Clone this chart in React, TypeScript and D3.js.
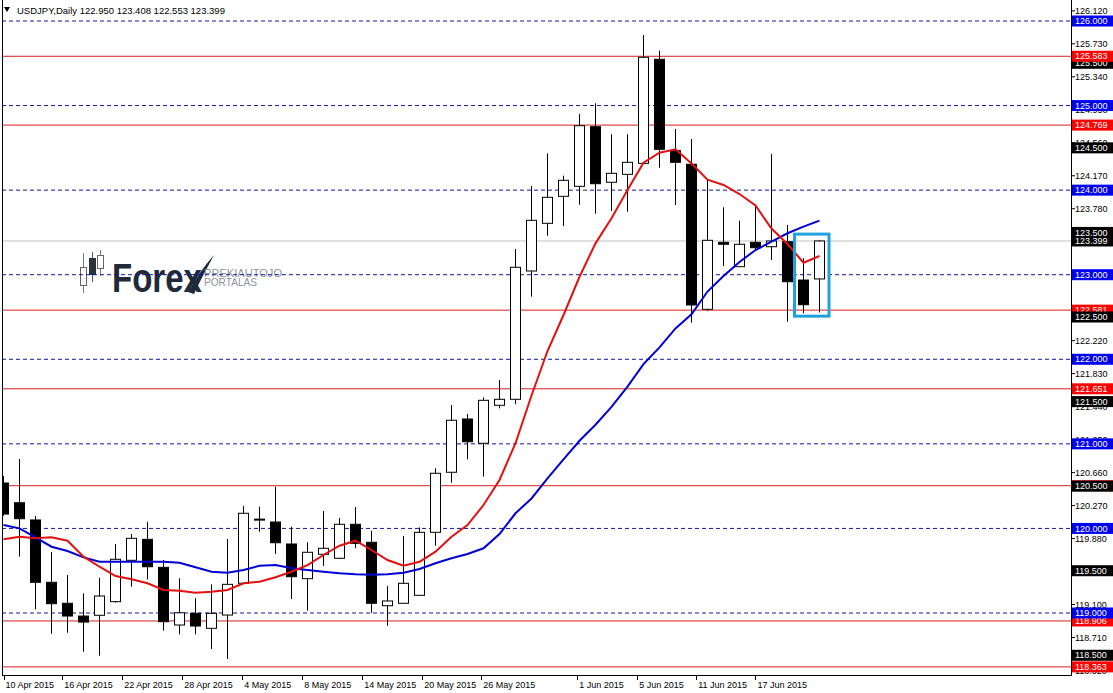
import React from 'react';
import * as d3 from 'd3';

// daily candles, 10 Apr 2015 .. 19 Jun 2015
const opens = [
  120.537, 120.304, 120.100, 119.363, 119.115, 118.964, 118.973, 119.134, 119.623, 119.871,
  119.540, 118.858, 118.996, 118.819, 118.976, 119.351, 120.100, 120.076, 119.816, 119.406,
  119.694, 119.647, 120.049, 119.836, 119.086, 119.115, 119.209, 119.954, 120.664, 121.294,
  121.007, 121.456, 121.527, 123.044, 123.608, 123.927, 124.045, 124.750, 124.093, 124.187,
  124.317, 125.547, 124.466, 124.306, 122.591, 123.383, 123.095, 123.383, 123.331, 123.390,
  122.937, 122.950,
];
const highs = [
  120.620, 120.821, 120.147, 119.721, 119.449, 119.233, 119.417, 119.816, 119.934, 120.079,
  119.627, 119.410, 119.174, 119.339, 119.875, 120.265, 120.257, 120.493, 120.020, 119.836,
  120.206, 120.123, 120.253, 119.973, 119.319, 119.910, 120.013, 120.711, 121.459, 121.353,
  121.550, 121.755, 123.304, 124.049, 124.436, 124.171, 124.900, 125.027, 124.660, 124.660,
  125.834, 125.649, 124.723, 124.605, 124.124, 123.797, 123.639, 123.812, 124.427, 123.588,
  123.194, 123.408,
];
const lows = [
  120.150, 119.666, 119.044, 118.755, 118.767, 118.542, 118.495, 119.122, 119.311, 119.398,
  118.791, 118.748, 118.748, 118.574, 118.456, 119.351, 119.961, 119.698, 119.165, 119.027,
  119.556, 119.638, 119.765, 119.003, 118.850, 119.115, 119.209, 119.796, 120.541, 120.817,
  120.612, 121.420, 121.468, 122.740, 123.461, 123.576, 123.828, 123.721, 123.753, 123.745,
  124.317, 124.265, 123.824, 122.433, 122.570, 123.103, 123.090, 123.292, 123.174, 122.444,
  122.544, 122.553,
];
const closes = [
  120.170, 120.115, 119.363, 119.110, 118.964, 118.893, 119.201, 119.635, 119.883, 119.547,
  118.897, 119.003, 118.846, 118.996, 119.339, 120.179, 120.110, 119.831, 119.429, 119.718,
  119.765, 120.049, 119.824, 119.115, 119.142, 119.351, 119.954, 120.652, 121.279, 121.025,
  121.515, 121.527, 123.088, 123.643, 123.915, 124.116, 124.762, 124.076, 124.199, 124.329,
  125.571, 124.483, 124.329, 122.642, 123.407, 123.360, 123.360, 123.319, 123.399, 122.917,
  122.645, 123.399,
];

// moving averages as drawn (red = fast, blue = slow)
const fastMA = [
  119.871, 119.902, 119.883, 119.895, 119.855, 119.666, 119.547, 119.437, 119.398, 119.351,
  119.272, 119.264, 119.240, 119.252, 119.272, 119.351, 119.370, 119.422, 119.488, 119.567,
  119.686, 119.796, 119.855, 119.745, 119.627, 119.559, 119.606, 119.725, 119.902, 120.040,
  120.277, 120.573, 121.007, 121.572, 122.098, 122.524, 122.976, 123.371, 123.667, 124.002,
  124.324, 124.443, 124.483, 124.315, 124.123, 124.061, 123.954, 123.818, 123.546, 123.363,
  123.142, 123.221,
];
const slowMA = [
  120.040, 120.001, 119.895, 119.784, 119.733, 119.658, 119.606, 119.606, 119.606, 119.606,
  119.606, 119.594, 119.540, 119.488, 119.476, 119.508, 119.559, 119.567, 119.528, 119.508,
  119.488, 119.469, 119.457, 119.453, 119.457, 119.476, 119.520, 119.588, 119.647, 119.698,
  119.765, 119.934, 120.179, 120.354, 120.593, 120.817, 121.037, 121.226, 121.438, 121.676,
  121.943, 122.141, 122.365, 122.533, 122.801, 122.985, 123.150, 123.292, 123.390, 123.490,
  123.568, 123.639,
];

const dateLabels = [
  '10 Apr 2015', '16 Apr 2015', '22 Apr 2015', '28 Apr 2015', '4 May 2015', '8 May 2015',
  '14 May 2015', '20 May 2015', '26 May 2015', '1 Jun 2015', '5 Jun 2015', '11 Jun 2015', '17 Jun 2015',
];
// where each date tick sits, in bar units
const dateTickBars = [0, 3.67, 7.42, 11.17, 14.92, 18.67, 22.42, 26.17, 29.86, 35.86, 39.61, 43.29, 47.0];

const priceTicks = [
  '126.120', '125.730', '125.340', '124.950', '124.560', '124.170', '123.780', '123.390', '123.000',
  '122.610', '122.220', '121.830', '121.440', '121.050', '120.660', '120.270', '119.880', '119.490',
  '119.100', '118.710', '118.320',
];

const blueLevels = [126, 125, 124, 123, 122, 121, 120, 119];
const redLevels = [125.583, 124.769, 122.581, 121.651, 120.505, 118.906, 118.363];
const lastPrice = 123.399;

// right-hand price boxes, in the order they are painted
const priceBoxes: [number, string][] = [
  [123.399, 'black'],
  [122.581, 'red'], [121.651, 'red'], [120.505, 'red'], [118.906, 'red'], [118.363, 'red'],
  [125.5, 'black'], [124.5, 'black'], [123.5, 'black'], [122.5, 'black'],
  [121.5, 'black'], [120.5, 'black'], [119.5, 'black'], [118.5, 'black'],
  [125.583, 'red'], [124.769, 'red'],
  [126, 'blue'], [125, 'blue'], [124, 'blue'], [123, 'blue'],
  [122, 'blue'], [121, 'blue'], [120, 'blue'], [119, 'blue'],
];

const headerSymbol = 'USDJPY,Daily';
const headerOHLC = ['122.950', '123.408', '122.553', '123.399'];

const highlight = { from: 50, to: 51, top: 123.48, bottom: 122.51 };

const boxFill: Record<string, string> = { red: '#ff0000', blue: '#0000f0', black: '#000000' };

const FONT = '"Liberation Sans", Arial, sans-serif';

export default function App() {
  const W = 1113, H = 693;
  const left = 2, right = 1071, top = 0, bottom = 675;

  const x = d3.scaleLinear().domain([0, opens.length - 1]).range([3.5, 819.5]);
  const y = d3.scaleLinear().domain([119, 126]).range([613, 21]);

  const maLine = d3.line<number>().x((_, i) => x(i)).y(d => y(d));

  return (
    <>
      <style>{'body{margin:0}'}</style>
      <svg width={W} height={H} style={{ display: 'block', background: '#fff' }} fontFamily={FONT}>
        <defs>
          <clipPath id="plot">
            <rect x={left} y={top} width={right - left} height={bottom - top} />
          </clipPath>
        </defs>

        {/* watermark logo */}
        <g>
          <line x1={83.5} x2={83.5} y1={253} y2={293} stroke="#777" />
          <rect x={80.5} y={267.5} width={6} height={18} fill="#fff" stroke="#666" />
          <line x1={92.5} x2={92.5} y1={252} y2={282} stroke="#555" />
          <rect x={89.5} y={258.5} width={6} height={16} fill="#2b313a" stroke="#2b313a" />
          <line x1={100.5} x2={100.5} y1={250} y2={276} stroke="#777" />
          <rect x={97.5} y={255.5} width={6} height={13} fill="#fff" stroke="#666" />
          <text x={112} y={292} fontSize={41} fontWeight="bold" fill="#1f2b3a"
            textLength={90} lengthAdjust="spacingAndGlyphs">Forex</text>
          <path d="M188,292 C196,278 204,266 214,255 C207,268 200,281 194,294 Z" fill="#1f2b3a" />
          <text x={204} y={277} fontSize={10.5} fill="#8b939c" textLength={78} lengthAdjust="spacingAndGlyphs">PREKIAUTOJO</text>
          <text x={204} y={286} fontSize={10.5} fill="#8b939c" textLength={53} lengthAdjust="spacingAndGlyphs">PORTALAS</text>
        </g>

        <g clipPath="url(#plot)">
          {/* level lines */}
          <line x1={left} x2={right} y1={y(lastPrice)} y2={y(lastPrice)} stroke="#c0c0c0" />
          {blueLevels.map(v => (
            <line key={'b' + v} x1={left} x2={right} y1={y(v)} y2={y(v)}
              stroke="#1414a8" strokeDasharray="4,3" />
          ))}
          {redLevels.map(v => (
            <line key={'r' + v} x1={left} x2={right} y1={y(v)} y2={y(v)} stroke="#d81e1e" />
          ))}

          {/* candles */}
          {opens.map((o, i) => {
            const c = closes[i];
            const up = c >= o;
            const y0 = y(Math.max(o, c));
            const h = Math.max(1, Math.abs(y(o) - y(c)));
            return (
              <g key={i}>
                <line x1={x(i)} x2={x(i)} y1={y(highs[i])} y2={y(lows[i])} stroke="#000" />
                <rect x={x(i) - 5} y={y0} width={10} height={h}
                  fill={up ? '#fff' : '#000'} stroke="#000" />
              </g>
            );
          })}

          {/* moving averages */}
          <path d={maLine(slowMA) || ''} fill="none" stroke="#0000d6" strokeWidth={2} />
          <path d={maLine(fastMA) || ''} fill="none" stroke="#e41010" strokeWidth={2} />

          {/* highlight box */}
          <rect x={x(highlight.from) - 9} y={y(highlight.top)}
            width={x(highlight.to) - x(highlight.from) + 18.5}
            height={y(highlight.bottom) - y(highlight.top)}
            fill="none" stroke="#1fa2dc" strokeWidth={3} />
        </g>

        {/* frame */}
        <line x1={left + 0.5} x2={left + 0.5} y1={top} y2={bottom} stroke="#000" />
        <line x1={right + 0.5} x2={right + 0.5} y1={top} y2={bottom + 0.5} stroke="#000" />
        <line x1={left} x2={right + 1} y1={bottom + 0.5} y2={bottom + 0.5} stroke="#000" />

        {/* header */}
        <path d="M4,7 L10,7 L7,12 Z" fill="#000" />
        <text x={17} y={14} fontSize={9.5} fill="#000">
          {headerSymbol + '  ' + headerOHLC.join(' ')}
        </text>

        {/* price axis */}
        {priceTicks.map(t => (
          <g key={t}>
            <line x1={right + 1} x2={right + 4} y1={y(+t)} y2={y(+t)} stroke="#000" />
            <text x={1075} y={y(+t)} dy="0.35em" fontSize={9} fill="#000">{t}</text>
          </g>
        ))}
        {priceBoxes.map(([v, k], i) => (
          <g key={'pb' + i}>
            <rect x={right + 1} y={y(v) - 5.5} width={W - right - 1} height={11} fill={boxFill[k]} />
            <text x={1075} y={y(v)} dy="0.35em" fontSize={9} fill="#fff">{v.toFixed(3)}</text>
          </g>
        ))}

        {/* time axis */}
        {dateLabels.map((d, i) => (
          <g key={d}>
            <line x1={Math.round(x(dateTickBars[i])) + 0.5} x2={Math.round(x(dateTickBars[i])) + 0.5}
              y1={bottom} y2={bottom + 5} stroke="#000" />
            <text x={x(dateTickBars[i]) + 2} y={688} fontSize={9} fill="#000">{d}</text>
          </g>
        ))}
      </svg>
    </>
  );
}
